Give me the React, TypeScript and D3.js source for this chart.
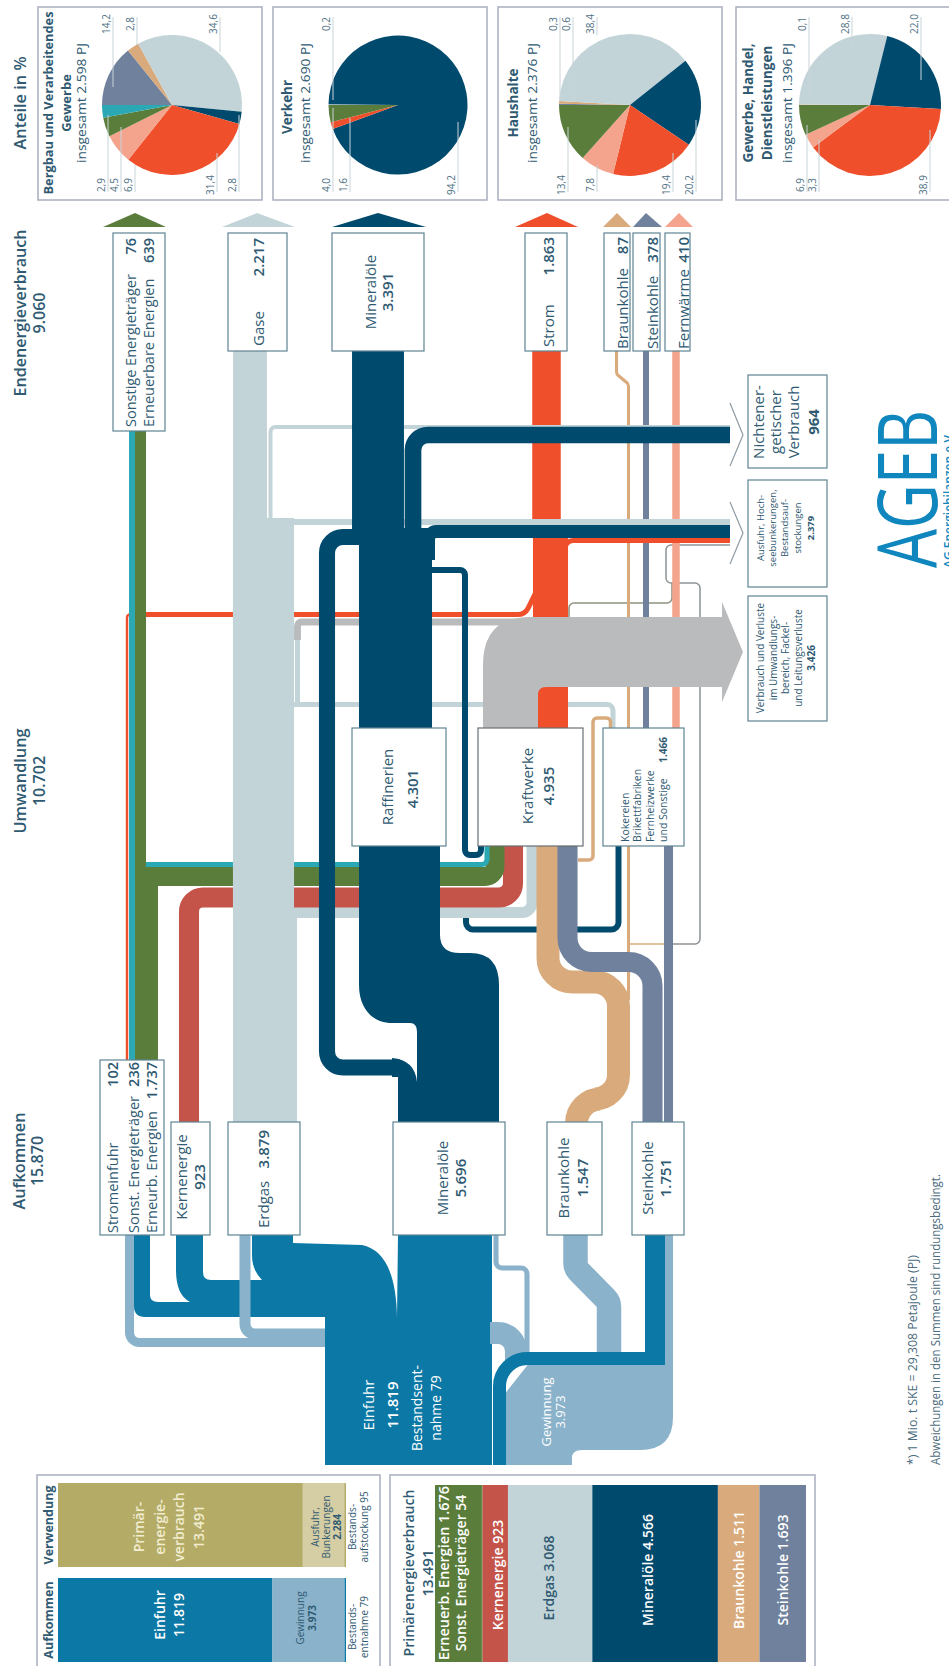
import React from 'react';
import * as d3 from 'd3';

// Farben
const cEinfuhr = '#0b78a5';
const cGewinnung = '#8ab2ca';
const cGas = '#c3d4d8';
const cOel = '#004a6e';
const cStrom = '#ef4f2a';
const cBraun = '#d9ab7c';
const cStein = '#6f819c';
const cFern = '#f4a48c';
const cGruen = '#5b7d3b';
const cTeal = '#2aa9b5';
const cKern = '#c4544a';
const cVerlust = '#b9bbbd';
const cOliv = '#b3ab66';
const cSand = '#d5cda4';
const cBorder = '#a9aebf';
const cBox = '#5f8493';
const cText = '#2f5a72';
const fontFamily = '"Open Sans", sans-serif';

// Anteile in %, Reihenfolge wie carrierColors
const carrierColors = [cStein, cBraun, cGas, cOel, cStrom, cFern, cGruen, cTeal];
const pieBergbau = [14.2, 2.8, 34.6, 2.8, 31.4, 6.9, 4.5, 2.9];
const pieVerkehr = [0, 0, 0.2, 94.2, 1.6, 0, 4.0, 0];
const pieHaushalte = [0.3, 0.6, 38.4, 20.2, 19.4, 7.8, 13.4, 0];
const pieGewerbe = [0, 0.1, 28.8, 22.0, 38.9, 3.3, 6.9, 0];

// Balken unten
const aufkommenValues = [11819, 3973, 79];
const aufkommenColors = [cEinfuhr, cGewinnung, cEinfuhr];
const verwendungValues = [13491, 2284, 95];
const verwendungColors = [cOliv, cSand, cOliv];
const primaerValues = [1676, 54, 923, 3068, 4566, 1511, 1693];
const primaerColors = [cGruen, cGruen, cKern, cGas, cOel, cBraun, cStein];

const bandNames = [
  'lineA', 'lineB', 'tanSpur', 'tanToSteel', 'fernEnd', 'steelEnd', 'gasToKoks', 'darkB',
  'stromEnd', 'stromMid', 'stromLow', 'stromAusfuhr', 'tanLoop', 'stromThinA', 'stromThinB',
  'gasKraft', 'kern', 'greenLow', 'greenBranch', 'greenUp', 'tealUp', 'tealBranch',
  'gasNicht', 'gasAusfuhr', 'gasLoop', 'greyLoop', 'gasEnd', 'gasMid', 'gasLow',
  'tanMain', 'steelMain', 'steelKoks',
  'darkA', 'bypass', 'oelNicht', 'oelAusfuhr', 'oelEnd', 'oelTrunk',
];
const bandValues = [
  100, 100, 200, 100, 490, 390, 330, 390,
  1863, 2290, 1960, 330, 230, 160, 330,
  720, 1310, 1500, 1240, 720, 390, 330,
  260, 390, 330, 450, 2217, 3990, 4180,
  1500, 1310, 590,
  390, 1050, 1090, 850, 3391, 4770,
];

// Verlauf der Bänder (Layout, getrennt von den Mengen)
type Pt = [number, number];
const bandLayout: Record<string, { pts: Pt[]; r: number; color: string }> = {
  lineA: { pts: [[673, 944], [700, 944], [700, 583], [666, 583], [666, 545], [730, 545]], r: 5, color: '#8e9496' },
  lineB: { pts: [[569, 617], [569, 603], [672, 603], [672, 583]], r: 5, color: '#8c9480' },
  tanSpur: { pts: [[616.5, 351], [616.5, 374], [628.5, 384], [628.5, 1000]], r: 5, color: cBraun },
  tanToSteel: { pts: [[628, 944], [664, 944]], r: 0, color: cBraun },
  fernEnd: { pts: [[676, 351], [676, 728]], r: 0, color: cFern },
  steelEnd: { pts: [[646, 351], [646, 728]], r: 0, color: cStein },
  gasToKoks: { pts: [[294, 704.5], [613, 704.5], [613, 728]], r: 6, color: cGas },
  darkB: { pts: [[618.5, 846], [618.5, 929.5], [466, 929.5], [466, 905]], r: 7, color: cOel },
  stromEnd: { pts: [[546.5, 351], [546.5, 532]], r: 0, color: cStrom },
  stromMid: { pts: [[550.5, 530], [550.5, 620]], r: 0, color: cStrom },
  stromLow: { pts: [[553, 685], [553, 728]], r: 0, color: cStrom },
  stromAusfuhr: { pts: [[565, 565], [565, 540.5], [730, 540.5]], r: 8, color: cStrom },
  tanLoop: { pts: [[578, 860], [593, 860], [593, 718], [610.5, 718], [610.5, 728]], r: 4, color: cBraun },
  stromThinA: { pts: [[127, 1060], [127, 614.5], [140, 614.5]], r: 3, color: cStrom },
  stromThinB: { pts: [[135, 614.5], [525, 614.5], [537, 590]], r: 12, color: cStrom },
  gasKraft: { pts: [[290, 912.5], [532, 912.5], [532, 846]], r: 10, color: cGas },
  kern: { pts: [[189, 1122], [189, 897.5], [513, 897.5], [513, 846]], r: 14, color: cKern },
  greenLow: { pts: [[146.5, 1060], [146.5, 867]], r: 0, color: cGruen },
  greenBranch: { pts: [[140, 876.5], [495, 876.5], [495, 846]], r: 10, color: cGruen },
  greenUp: { pts: [[140.5, 431], [140.5, 880]], r: 0, color: cGruen },
  tealUp: { pts: [[132, 431], [132, 1060]], r: 0, color: cTeal },
  tealBranch: { pts: [[146, 864.5], [487, 864.5], [487, 846]], r: 5, color: cTeal },
  gasNicht: { pts: [[270.5, 525], [270.5, 427], [730, 427]], r: 5, color: cGas },
  gasAusfuhr: { pts: [[290, 522], [730, 522]], r: 0, color: cGas },
  gasLoop: { pts: [[297.5, 704], [297.5, 635]], r: 0, color: cGas },
  greyLoop: { pts: [[297.5, 640], [297.5, 622], [535, 622]], r: 4, color: cVerlust },
  gasEnd: { pts: [[250, 351], [250, 522]], r: 0, color: cGas },
  gasMid: { pts: [[263.5, 518], [263.5, 920]], r: 0, color: cGas },
  gasLow: { pts: [[265, 915], [265, 1122]], r: 0, color: cGas },
  tanMain: { pts: [[548, 846], [548, 982], [618.5, 982], [618.5, 1099], [576.5, 1099], [576.5, 1122]], r: 24, color: cBraun },
  steelMain: { pts: [[567.5, 846], [567.5, 962], [652.5, 962], [652.5, 1122]], r: 24, color: cStein },
  steelKoks: { pts: [[668.5, 846], [668.5, 1122]], r: 0, color: cStein },
  darkA: { pts: [[430, 570], [465, 570], [465, 855], [481, 855], [481, 846]], r: 5, color: cOel },
  bypass: { pts: [[400, 1067.5], [327, 1067.5], [327, 537], [362, 537]], r: 16, color: cOel },
  oelNicht: { pts: [[413, 535], [413, 435], [730, 435]], r: 15, color: cOel },
  oelAusfuhr: { pts: [[428.5, 560], [428.5, 531.5], [730, 531.5]], r: 8, color: cOel },
  oelEnd: { pts: [[378, 351], [378, 535]], r: 0, color: cOel },
  oelTrunk: { pts: [[395.5, 528], [395.5, 730]], r: 0, color: cOel },
};

// Zuflüsse unter den Aufkommens-Kästen
const sourceNames = ['lightLeft', 'lightErdgas', 'lightOel', 'lightErdgasRight', 'lightBraun', 'steinEinfuhr', 'steinBand'];
const sourceValues = [590, 720, 330, 1440, 1600, 1310, 850];
const sourceLayout: Record<string, { pts: Pt[]; r: number; color: string }> = {
  lightLeft: { pts: [[129.5, 1235], [129.5, 1342.5], [325, 1342.5]], r: 10, color: cGewinnung },
  lightErdgas: { pts: [[245, 1235], [245, 1334], [325, 1334]], r: 10, color: cGewinnung },
  lightOel: { pts: [[496, 1235], [496, 1268], [527, 1268], [527, 1360]], r: 6, color: cGewinnung },
  lightErdgasRight: { pts: [[490, 1333], [516, 1333], [516, 1362]], r: 18, color: cGewinnung },
  lightBraun: { pts: [[575.5, 1235], [575.5, 1268], [609, 1302], [609, 1360]], r: 12, color: cGewinnung },
  steinEinfuhr: { pts: [[655, 1235], [655, 1352]], r: 0, color: cEinfuhr },
  steinBand: { pts: [[665, 1358.5], [499.5, 1358.5], [499.5, 1465]], r: 28, color: cEinfuhr },
};

const widthScale = d3.scaleLinear().domain([0, 11819]).range([0, 181]);

function route(pts: Pt[], r: number) {
  const p = d3.path();
  p.moveTo(pts[0][0], pts[0][1]);
  for (let i = 1; i < pts.length - 1; i++) {
    p.arcTo(pts[i][0], pts[i][1], pts[i + 1][0], pts[i + 1][1], r);
  }
  p.lineTo(pts[pts.length - 1][0], pts[pts.length - 1][1]);
  return p.toString();
}

function blockPath(draw: (p: d3.Path) => void) {
  const p = d3.path();
  draw(p);
  p.closePath();
  return p.toString();
}

const oelBlock = blockPath((p) => {
  p.moveTo(359, 846);
  p.lineTo(359, 985);
  p.bezierCurveTo(359, 1008, 372, 1023, 392, 1023);
  p.lineTo(410, 1023);
  p.quadraticCurveTo(417, 1023, 417, 1032);
  p.lineTo(417, 1082);
  p.quadraticCurveTo(415, 1060, 392, 1058);
  p.lineTo(392, 1077);
  p.lineTo(398, 1077);
  p.lineTo(398, 1122);
  p.lineTo(499, 1122);
  p.lineTo(499, 985);
  p.quadraticCurveTo(499, 953, 470, 953);
  p.lineTo(460, 953);
  p.quadraticCurveTo(440, 953, 440, 935);
  p.lineTo(440, 846);
});

const einfuhrBlock = blockPath((p) => {
  p.moveTo(134, 1235);
  p.lineTo(150, 1235);
  p.lineTo(150, 1295);
  p.quadraticCurveTo(150, 1302, 158, 1302);
  p.lineTo(190, 1302);
  p.quadraticCurveTo(176, 1295, 176, 1270);
  p.lineTo(176, 1235);
  p.lineTo(203, 1235);
  p.lineTo(203, 1272);
  p.quadraticCurveTo(203, 1280, 211, 1280);
  p.lineTo(262, 1280);
  p.quadraticCurveTo(252, 1270, 252, 1255);
  p.lineTo(252, 1235);
  p.lineTo(293, 1235);
  p.lineTo(293, 1243);
  p.lineTo(362, 1245);
  p.quadraticCurveTo(396, 1252, 397, 1318);
  p.lineTo(398, 1235);
  p.lineTo(492, 1235);
  p.lineTo(492, 1465);
  p.lineTo(325, 1465);
  p.lineTo(325, 1317);
  p.lineTo(145, 1317);
  p.quadraticCurveTo(134, 1317, 134, 1306);
});

const gewinnungBlock = blockPath((p) => {
  p.moveTo(500, 1465);
  p.lineTo(572, 1465);
  p.lineTo(572, 1458);
  p.quadraticCurveTo(572, 1450, 582, 1450);
  p.lineTo(640, 1450);
  p.quadraticCurveTo(673, 1450, 673, 1417);
  p.lineTo(673, 1235);
  p.lineTo(665, 1235);
  p.lineTo(665, 1362);
  p.lineTo(530, 1362);
  p.lineTo(500, 1400);
});

const verlustArrow = blockPath((p) => {
  p.moveTo(483, 728);
  p.lineTo(483, 665);
  p.quadraticCurveTo(483, 617, 530, 617);
  p.lineTo(722, 617);
  p.lineTo(722, 602);
  p.lineTo(743, 652);
  p.lineTo(722, 702);
  p.lineTo(722, 687);
  p.lineTo(546, 687);
  p.quadraticCurveTo(538, 687, 538, 695);
  p.lineTo(538, 728);
});

// Rahmen und Kästen
const panels = [
  [38, 7, 262, 200], [273, 7, 487, 200], [498, 7, 722, 200], [736, 7, 960, 200],
  [37, 1475, 380, 1670], [390, 1475, 815, 1670],
];
const boxes = [
  [113, 233, 165, 431], [228, 233, 287, 351], [332, 233, 424, 351], [525, 233, 567, 351],
  [604, 233, 630, 351], [633, 233, 660, 351], [665, 233, 690, 351],
  [748, 375, 827, 468], [748, 480, 827, 587], [748, 596, 827, 721],
  [352, 728, 446, 846], [603, 728, 684, 846],
  [100, 1060, 164, 1235], [171, 1122, 210, 1235], [228, 1122, 300, 1235],
  [393, 1122, 505, 1235], [547, 1122, 602, 1235], [632, 1122, 684, 1235],
];
const endArrows = [
  [103, 166, 135, cGruen], [222, 295, 257, cGas], [332, 426, 378, cOel], [515, 578, 547, cStrom],
  [603, 631, 617, cBraun], [633, 662, 646, cStein], [665, 693, 679, cFern],
];

// Kreisdiagramme: Mitte, Radius, Hinweislinien [Index, x, y-Ende]
const pies = [
  {
    values: pieBergbau, cx: 172, cy: 105, r: 70,
    top: [[0, 113, 87], [1, 137, 45], [2, 220, 52]],
    bottom: [[7, 108, 115], [6, 121, 127], [5, 135, 165], [4, 217, 153], [3, 239, 115]],
  },
  {
    values: pieVerkehr, cx: 398, cy: 105, r: 69.5,
    top: [[2, 333, 100]],
    bottom: [[6, 333, 108], [4, 350, 118], [3, 458, 122]],
  },
  {
    values: pieHaushalte, cx: 630, cy: 105, r: 71,
    top: [[0, 560, 100], [1, 573, 100], [2, 597, 35]],
    bottom: [[6, 568, 127], [5, 597, 165], [4, 673, 153], [3, 696, 120]],
  },
  {
    values: pieGewerbe, cx: 870, cy: 105, r: 71,
    top: [[1, 809, 100], [2, 852, 52], [3, 921, 80]],
    bottom: [[6, 807, 125], [5, 819, 140], [4, 930, 130]],
  },
];

const pieGen = d3.pie<number>().sort(null).startAngle(-Math.PI / 2).endAngle((3 * Math.PI) / 2);
const pct = (v: number) => d3.format('.1f')(v).replace('.', ',');

type TProps = {
  x: number; y: number; size?: number; anchor?: string; weight?: number; color?: string; len?: number; children: React.ReactNode;
};
const T = ({ x, y, size = 15, anchor = 'middle', weight = 400, color = cText, len, children }: TProps) => (
  <text
    transform={`translate(${x},${y}) rotate(-90)`}
    textAnchor={anchor}
    dominantBaseline="central"
    fontSize={size}
    fontWeight={weight}
    fill={color}
    fontFamily={fontFamily}
    textLength={len}
    lengthAdjust={len ? 'spacingAndGlyphs' : undefined}
  >
    {children}
  </text>
);

const Stack = ({ values, colors, y0, y1, range }: { values: number[]; colors: string[]; y0: number; y1: number; range: [number, number] }) => {
  const x = d3.scaleLinear().domain([0, d3.sum(values)]).range(range);
  const cum = d3.cumsum(values);
  return (
    <g>
      {values.map((v, i) => (
        <rect key={i} x={x(cum[i] - v)} y={y0} width={x(cum[i]) - x(cum[i] - v)} height={y1 - y0} fill={colors[i]} />
      ))}
    </g>
  );
};

const App = () => {
  const band = (name: string, value: number, l: { pts: Pt[]; r: number; color: string }) => (
    <path
      key={name}
      d={route(l.pts, l.r)}
      fill="none"
      stroke={l.color}
      strokeWidth={widthScale(value)}
    />
  );
  return (
    <svg
      width={949}
      height={1666}
      style={{ position: 'absolute', left: 0, top: 0, display: 'block', background: '#fff' }}
    >
      {/* Bänder */}
      {bandNames.slice(0, 15).map((n) => band(n, bandValues[bandNames.indexOf(n)], bandLayout[n]))}
      <path d={verlustArrow} fill={cVerlust} />
      {bandNames.slice(15).map((n) => band(n, bandValues[bandNames.indexOf(n)], bandLayout[n]))}
      <path d={oelBlock} fill={cOel} />

      {/* Zuflüsse */}
      <path d={gewinnungBlock} fill={cGewinnung} />
      <path d={einfuhrBlock} fill={cEinfuhr} />
      {sourceNames.map((n, i) => band(n, sourceValues[i], sourceLayout[n]))}

      {/* Pfeile zu den Verwendungen */}
      {[[403, 435, 466], [502, 533, 564]].map(([a, tip, b], i) => (
        <polyline key={i} points={`730,${a} 743,${tip} 730,${b}`} fill="#fff" stroke="#8e9ba5" strokeWidth={1.2} />
      ))}
      {endArrows.map(([x0, x1, tip, color], i) => (
        <polygon key={i} points={`${x0},227 ${tip},213 ${x1},227`} fill={color as string} />
      ))}

      {/* Kästen */}
      {boxes.map(([x0, y0, x1, y1], i) => (
        <rect key={i} x={x0} y={y0} width={x1 - x0} height={y1 - y0} fill="#fff" stroke={cBox} strokeWidth={1.2} />
      ))}
      <rect x={478} y={728} width={105} height={118} fill="#fff" stroke="#6a6f72" strokeWidth={1.2} />

      {/* Rahmen */}
      {panels.map(([x0, y0, x1, y1], i) => (
        <rect key={i} x={x0} y={y0} width={x1 - x0} height={y1 - y0} fill="none" stroke={cBorder} strokeWidth={1.5} />
      ))}

      {/* Kreise */}
      {pies.map((pie, pi) => {
        const arc = d3.arc<d3.PieArcDatum<number>>().innerRadius(0).outerRadius(pie.r);
        return (
          <g key={pi}>
            <g transform={`translate(${pie.cx},${pie.cy})`}>
              {pieGen(pie.values).map((a, i) =>
                a.value > 0 ? <path key={i} d={arc(a) as string} fill={carrierColors[i]} /> : null
              )}
            </g>
            {pie.top.map(([idx, x, end]) => (
              <g key={idx}>
                <line x1={x} x2={x} y1={17} y2={end} stroke="#c9d3d8" strokeWidth={1} />
                <T x={x - 7} y={24} size={10} color="#4f7183">{pct(pie.values[idx])}</T>
              </g>
            ))}
            {pie.bottom.map(([idx, x, end]) => (
              <g key={idx}>
                <line x1={x} x2={x} y1={end} y2={192} stroke="#c9d3d8" strokeWidth={1} />
                <T x={x - 7} y={185} size={10} color="#4f7183">{pct(pie.values[idx])}</T>
              </g>
            ))}
          </g>
        );
      })}

      {/* Balken */}
      <Stack values={aufkommenValues} colors={aufkommenColors} y0={1578} y1={1662} range={[58, 346]} />
      <Stack values={verwendungValues} colors={verwendungColors} y0={1483} y1={1567} range={[58, 346]} />
      <Stack values={primaerValues} colors={primaerColors} y0={1485} y1={1662} range={[435, 806]} />

      {/* Überschriften */}
      <T x={20} y={103} size={16} weight={600} len={93}>Anteile in %</T>
      <T x={20} y={313} size={16} weight={600} len={167}>Endenergieverbrauch</T>
      <T x={39} y={313} size={16} weight={600}>9.060</T>
      <T x={20} y={781} size={16} weight={600} len={105}>Umwandlung</T>
      <T x={39} y={781} size={16} weight={600}>10.702</T>
      <T x={19} y={1161} size={16} weight={600} len={97}>Aufkommen</T>
      <T x={37} y={1161} size={16} weight={600}>15.870</T>

      {/* Titel der Kreise */}
      <T x={48} y={103} size={13} weight={700} len={183}>Bergbau und Verarbeitendes</T>
      <T x={66} y={103} size={13} weight={700}>Gewerbe</T>
      <T x={81} y={103} size={13.5} len={120}>insgesamt 2.598 PJ</T>
      <T x={287} y={107} size={13.5} weight={700}>Verkehr</T>
      <T x={305} y={103} size={13.5} len={120}>insgesamt 2.690 PJ</T>
      <T x={513} y={103} size={13.5} weight={700}>Haushalte</T>
      <T x={532} y={103} size={13.5} len={120}>insgesamt 2.376 PJ</T>
      <T x={748} y={103} size={13.5} weight={700}>Gewerbe, Handel,</T>
      <T x={767} y={103} size={13.5} weight={700}>Dienstleistungen</T>
      <T x={787} y={103} size={13.5} len={120}>insgesamt 1.396 PJ</T>

      {/* Endenergie */}
      <T x={130} y={427} anchor="start" size={14.5}>Sonstige Energieträger</T>
      <T x={130} y={238} anchor="end" size={14.5} weight={600}>76</T>
      <T x={148} y={427} anchor="start" size={14.5}>Erneuerbare Energien</T>
      <T x={148} y={238} anchor="end" size={14.5} weight={600}>639</T>
      <T x={258} y={346} anchor="start">Gase</T>
      <T x={258} y={238} anchor="end" weight={600}>2.217</T>
      <T x={370} y={292}>Mineralöle</T>
      <T x={387} y={292} weight={600}>3.391</T>
      <T x={548} y={347} anchor="start">Strom</T>
      <T x={548} y={237} anchor="end" weight={600}>1.863</T>
      <T x={622} y={349} anchor="start">Braunkohle</T>
      <T x={622} y={237} anchor="end" weight={600}>87</T>
      <T x={652} y={349} anchor="start">Steinkohle</T>
      <T x={652} y={237} anchor="end" weight={600}>378</T>
      <T x={683} y={349} anchor="start">Fernwärme</T>
      <T x={683} y={237} anchor="end" weight={600}>410</T>

      {/* Verwendungen */}
      <T x={758} y={422}>Nichtener-</T>
      <T x={775} y={422}>getischer</T>
      <T x={793} y={422}>Verbrauch</T>
      <T x={813} y={422} weight={700}>964</T>
      <T x={760} y={528} size={9.5}>Ausfuhr, Hoch-</T>
      <T x={772} y={528} size={9.5}>seebunkerungen,</T>
      <T x={784} y={528} size={9.5}>Bestandsauf-</T>
      <T x={797} y={528} size={9.5}>stockungen</T>
      <T x={810} y={528} size={9.5} weight={700}>2.379</T>
      <T x={760} y={658} size={10}>Verbrauch und Verluste</T>
      <T x={773} y={658} size={10}>im Umwandlungs-</T>
      <T x={785} y={658} size={10}>bereich, Fackel-</T>
      <T x={798} y={658} size={10}>und Leitungsverluste</T>
      <T x={811} y={658} size={10} weight={700}>3.426</T>

      {/* Umwandlung */}
      <T x={387} y={787}>Raffinerien</T>
      <T x={412} y={789} weight={600}>4.301</T>
      <T x={527} y={786}>Kraftwerke</T>
      <T x={548} y={786} weight={600}>4.935</T>
      <T x={625} y={842} anchor="start" size={10.5}>Kokereien</T>
      <T x={637} y={842} anchor="start" size={10.5}>Brikettfabriken</T>
      <T x={650} y={842} anchor="start" size={10.5}>Fernheizwerke</T>
      <T x={663} y={842} anchor="start" size={10.5}>und Sonstige</T>
      <T x={663} y={737} anchor="end" size={10} weight={700}>1.466</T>

      {/* Aufkommen */}
      <T x={112} y={1233} anchor="start" size={14.5}>Stromeinfuhr</T>
      <T x={112} y={1062} anchor="end" size={14.5} weight={600}>102</T>
      <T x={133} y={1233} anchor="start" size={14.5}>Sonst. Energieträger</T>
      <T x={133} y={1062} anchor="end" size={14.5} weight={600}>236</T>
      <T x={151} y={1233} anchor="start" size={14.5}>Erneurb. Energien</T>
      <T x={151} y={1062} anchor="end" size={14.5} weight={600}>1.737</T>
      <T x={181} y={1177}>Kernenergie</T>
      <T x={199} y={1177} weight={600}>923</T>
      <T x={263} y={1228} anchor="start">Erdgas</T>
      <T x={263} y={1130} anchor="end" weight={600}>3.879</T>
      <T x={442} y={1178}>Mineralöle</T>
      <T x={460} y={1178} weight={600}>5.696</T>
      <T x={563} y={1178}>Braunkohle</T>
      <T x={582} y={1178} weight={600}>1.547</T>
      <T x={647} y={1178}>Steinkohle</T>
      <T x={665} y={1178} weight={600}>1.751</T>

      {/* Texte im Block */}
      <T x={368} y={1405} color="#fff">Einfuhr</T>
      <T x={392} y={1405} color="#fff" weight={600}>11.819</T>
      <T x={416} y={1408} color="#fff" size={14}>Bestandsent-</T>
      <T x={435} y={1408} color="#fff" size={14}>nahme 79</T>
      <T x={546} y={1412} color="#fff" size={13}>Gewinnung</T>
      <T x={560} y={1412} color="#fff" size={13}>3.973</T>

      {/* Balkentexte links */}
      <T x={48} y={1620} size={12.5} weight={700}>Aufkommen</T>
      <T x={48} y={1525} size={12.5} weight={700}>Verwendung</T>
      <T x={159} y={1615} size={14} color="#fff" weight={600}>Einfuhr</T>
      <T x={178} y={1615} size={14} color="#fff" weight={600}>11.819</T>
      <T x={300} y={1618} size={10}>Gewinnung</T>
      <T x={312} y={1618} size={10} weight={700}>3.973</T>
      <T x={352} y={1627} size={10}>Bestands-</T>
      <T x={364} y={1627} size={10}>entnahme 79</T>
      <T x={138} y={1527} size={14} color="#f2edd0" weight={600}>Primär-</T>
      <T x={159} y={1527} size={14} color="#f2edd0" weight={600}>energie-</T>
      <T x={178} y={1527} size={14} color="#f2edd0" weight={600}>verbrauch</T>
      <T x={198} y={1527} size={14} color="#f2edd0" weight={600}>13.491</T>
      <T x={315} y={1527} size={10}>Ausfuhr,</T>
      <T x={326} y={1527} size={10}>Bunkerungen</T>
      <T x={337} y={1527} size={10} weight={700}>2.284</T>
      <T x={352} y={1527} size={10}>Bestands-</T>
      <T x={364} y={1527} size={10}>aufstockung 95</T>

      {/* Balkentexte rechts */}
      <T x={408} y={1573} size={15} weight={600} len={167}>Primärenergieverbrauch</T>
      <T x={427} y={1573} size={15} weight={600}>13.491</T>
      <T x={443} y={1573} size={14} color="#fff" weight={600} len={174}>Erneuerb. Energien 1.676</T>
      <T x={460} y={1573} size={14} color="#fff" weight={600}>Sonst. Energieträger 54</T>
      <T x={497} y={1575} size={14} color="#fff" weight={600}>Kernenergie 923</T>
      <T x={548} y={1578} size={14} weight={600}>Erdgas 3.068</T>
      <T x={647} y={1570} size={14} color="#fff" weight={600}>Mineralöle 4.566</T>
      <T x={738} y={1570} size={14} color="#fff" weight={600}>Braunkohle 1.511</T>
      <T x={782} y={1570} size={14} color="#fff" weight={600}>Steinkohle 1.693</T>

      {/* Fußnote und Logo */}
      <T x={912} y={1465} anchor="start" size={12} color="#4a6b7c" len={210}>*) 1 Mio. t SKE = 29,308 Petajoule (PJ)</T>
      <T x={935} y={1465} anchor="start" size={12} color="#4a6b7c" len={291}>Abweichungen in den Summen sind rundungsbedingt.</T>
      <text
        transform="translate(937,568) rotate(-90)"
        fontSize={82}
        fill="#0f86bd"
        fontFamily={fontFamily}
        textLength={158}
        lengthAdjust="spacingAndGlyphs"
      >
        AGEB
      </text>
      <T x={948} y={568} anchor="start" size={12} color="#0f86bd" weight={600}>AG Energiebilanzen e.V.</T>
    </svg>
  );
};

export default App;
